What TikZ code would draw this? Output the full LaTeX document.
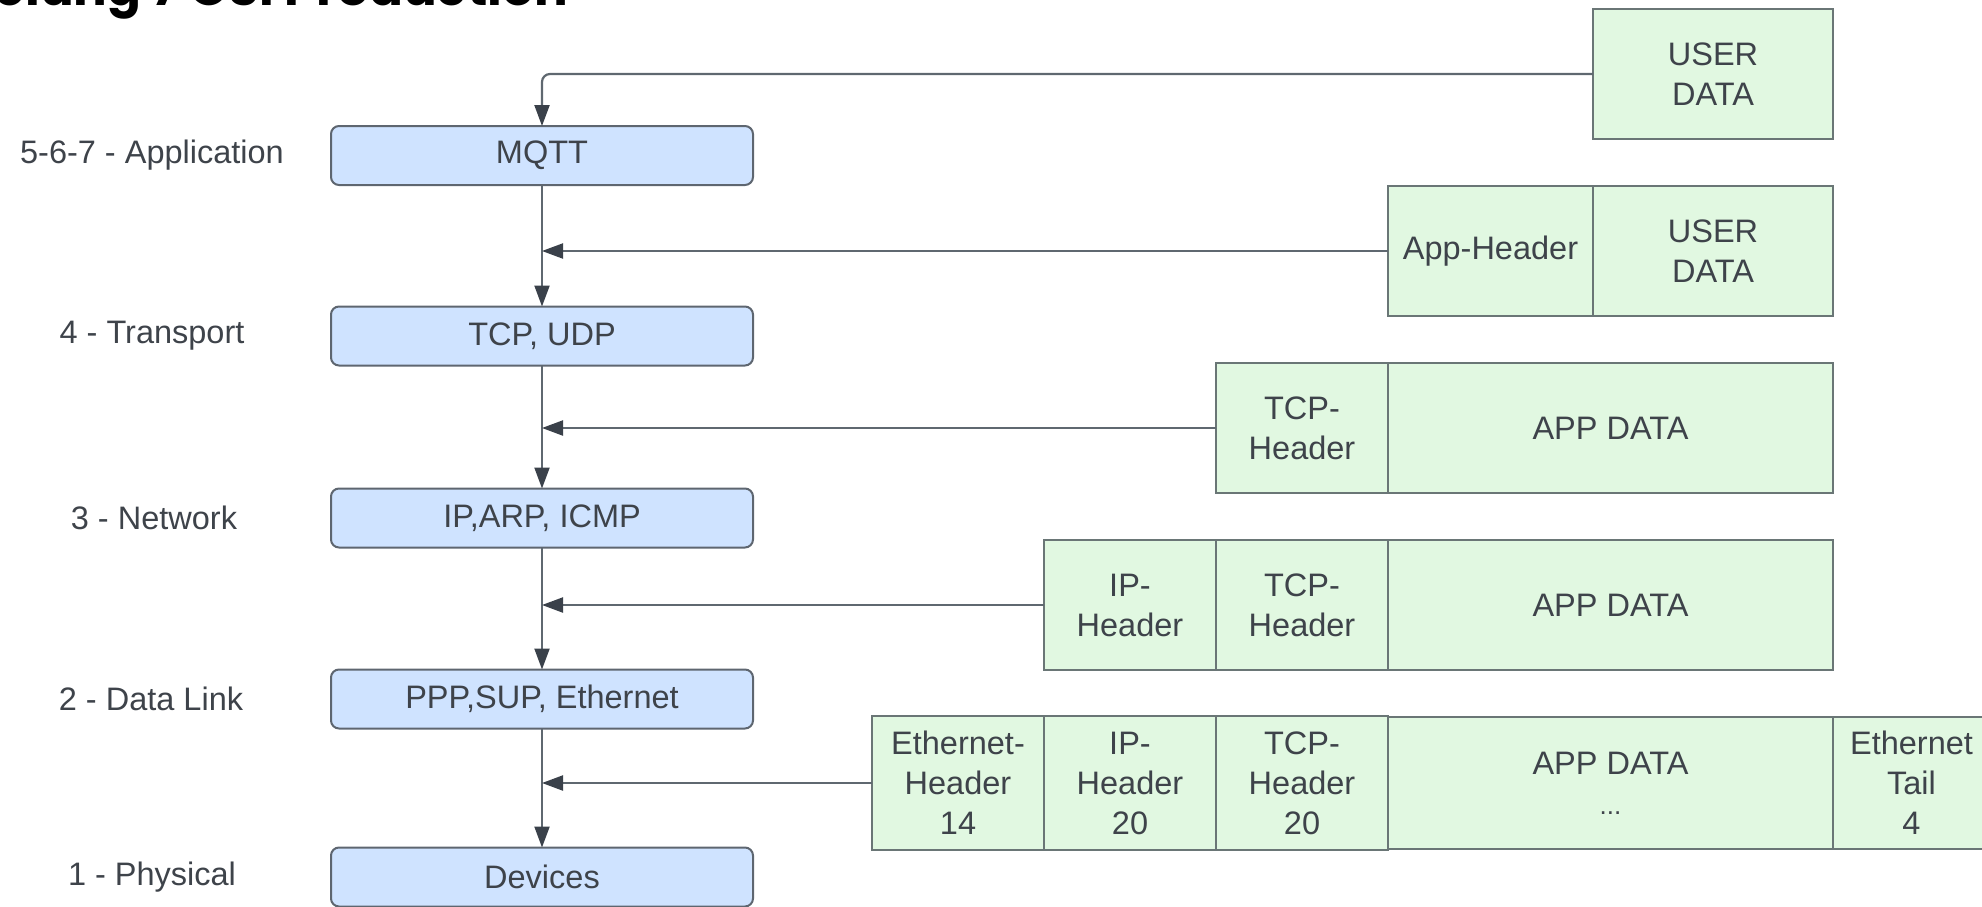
\documentclass[tikz,border=0pt]{standalone}
\usepackage{fontspec}
\setmainfont{Liberation Sans}
\newfontfamily\titlefont{Poppins}
\usetikzlibrary{arrows.meta}

\definecolor{txt}{HTML}{3E434A}
\definecolor{wire}{HTML}{5F6870}
\definecolor{tipcol}{HTML}{3A414A}
\definecolor{layerfill}{HTML}{CFE3FF}
\definecolor{layeredge}{HTML}{5E6670}
\definecolor{pktfill}{HTML}{E1F8E1}
\definecolor{pktedge}{HTML}{6A7676}

\tikzset{
  basefont/.style={font=\fontsize{32.5}{40}\selectfont, text=txt},
  layerbox/.style={basefont, draw=layeredge, fill=layerfill, line width=2pt,
    rounded corners=8pt, minimum width=422pt, minimum height=59pt,
    inner sep=0pt, outer sep=0pt},
  layerlabel/.style={basefont},
  cell/.style={basefont, draw=pktedge, fill=pktfill, line width=2pt,
    minimum height=130pt, inner sep=0pt, outer sep=0pt, anchor=west,
    align=center},
  conn/.style={draw=wire, line width=2.2pt,
    -{Triangle[length=21pt,width=15pt,color=tipcol,fill=tipcol]}},
}

\begin{document}
\begin{tikzpicture}[x=1pt,y=-1pt]
  \useasboundingbox (0,0) rectangle (1982,907);
  \clip (0,0) rectangle (1982,907);

  % heading, mostly above the top edge
  \node[anchor=base east, inner sep=0pt,
        font=\titlefont\bfseries\fontsize{50}{60}\selectfont, text=black]
        (title) at (568,5.5) {Kapselung 7 OSI Production};

  % protocol layers
  \node[layerbox] (mqtt) at (542,155.5) {MQTT};
  \node[layerbox] (tcp)  at (542,336)   {TCP, UDP};
  \node[layerbox] (ip)   at (542,518)   {IP,ARP, ICMP};
  \node[layerbox] (link) at (542,699)   {PPP,SUP, Ethernet};
  \node[layerbox] (phys) at (542,877)   {Devices};

  % layer names
  \node[layerlabel] (l7) at (152,155.5) {5-6-7 - Application};
  \node[layerlabel] (l4) at (152,336)   {4 - Transport};
  \node[layerlabel] (l3) at (154,518)   {3 - Network};
  \node[layerlabel] (l2) at (151,699)   {2 - Data Link};
  \node[layerlabel] (l1) at (152,877)   {1 - Physical};

  % packet at each layer
  \node[cell, minimum width=240pt] (u1) at (1593,74) {USER\\DATA};

  \node[cell, minimum width=205pt] (a2) at (1388,251) {App-Header};
  \node[cell, minimum width=240pt] (u2) at (1593,251) {USER\\DATA};

  \node[cell, minimum width=172pt] (t3) at (1216,428) {TCP-\\Header};
  \node[cell, minimum width=445pt] (d3) at (1388,428) {APP DATA};

  \node[cell, minimum width=172pt] (i4) at (1044,605) {IP-\\Header};
  \node[cell, minimum width=172pt] (t4) at (1216,605) {TCP-\\Header};
  \node[cell, minimum width=445pt] (d4) at (1388,605) {APP DATA};

  \node[cell, minimum width=172pt, minimum height=134pt] (e5) at (872,783) {Ethernet-\\Header\\14};
  \node[cell, minimum width=172pt, minimum height=134pt] (i5) at (1044,783) {IP-\\Header\\20};
  \node[cell, minimum width=172pt, minimum height=134pt] (t5) at (1216,783) {TCP-\\Header\\20};
  \node[cell, minimum width=445pt, minimum height=132pt] (d5) at (1388,783) {APP DATA\\{\fontsize{26}{40}\selectfont ...}};
  \node[cell, minimum width=157pt, minimum height=132pt] (f5) at (1833,783) {Ethernet\\Tail\\4};

  % data flowing down the stack
  \draw[conn, rounded corners=8pt] (u1.west) -| (mqtt.north);
  \draw[conn] (mqtt.south) -- (tcp.north);
  \draw[conn] (tcp.south)  -- (ip.north);
  \draw[conn] (ip.south)   -- (link.north);
  \draw[conn] (link.south) -- (phys.north);

  % headers added on the way down
  \draw[conn] (a2.west) -- (a2.west -| mqtt.south);
  \draw[conn] (t3.west) -- (t3.west -| tcp.south);
  \draw[conn] (i4.west) -- (i4.west -| ip.south);
  \draw[conn] (e5.west) -- (e5.west -| link.south);
\end{tikzpicture}
\end{document}
